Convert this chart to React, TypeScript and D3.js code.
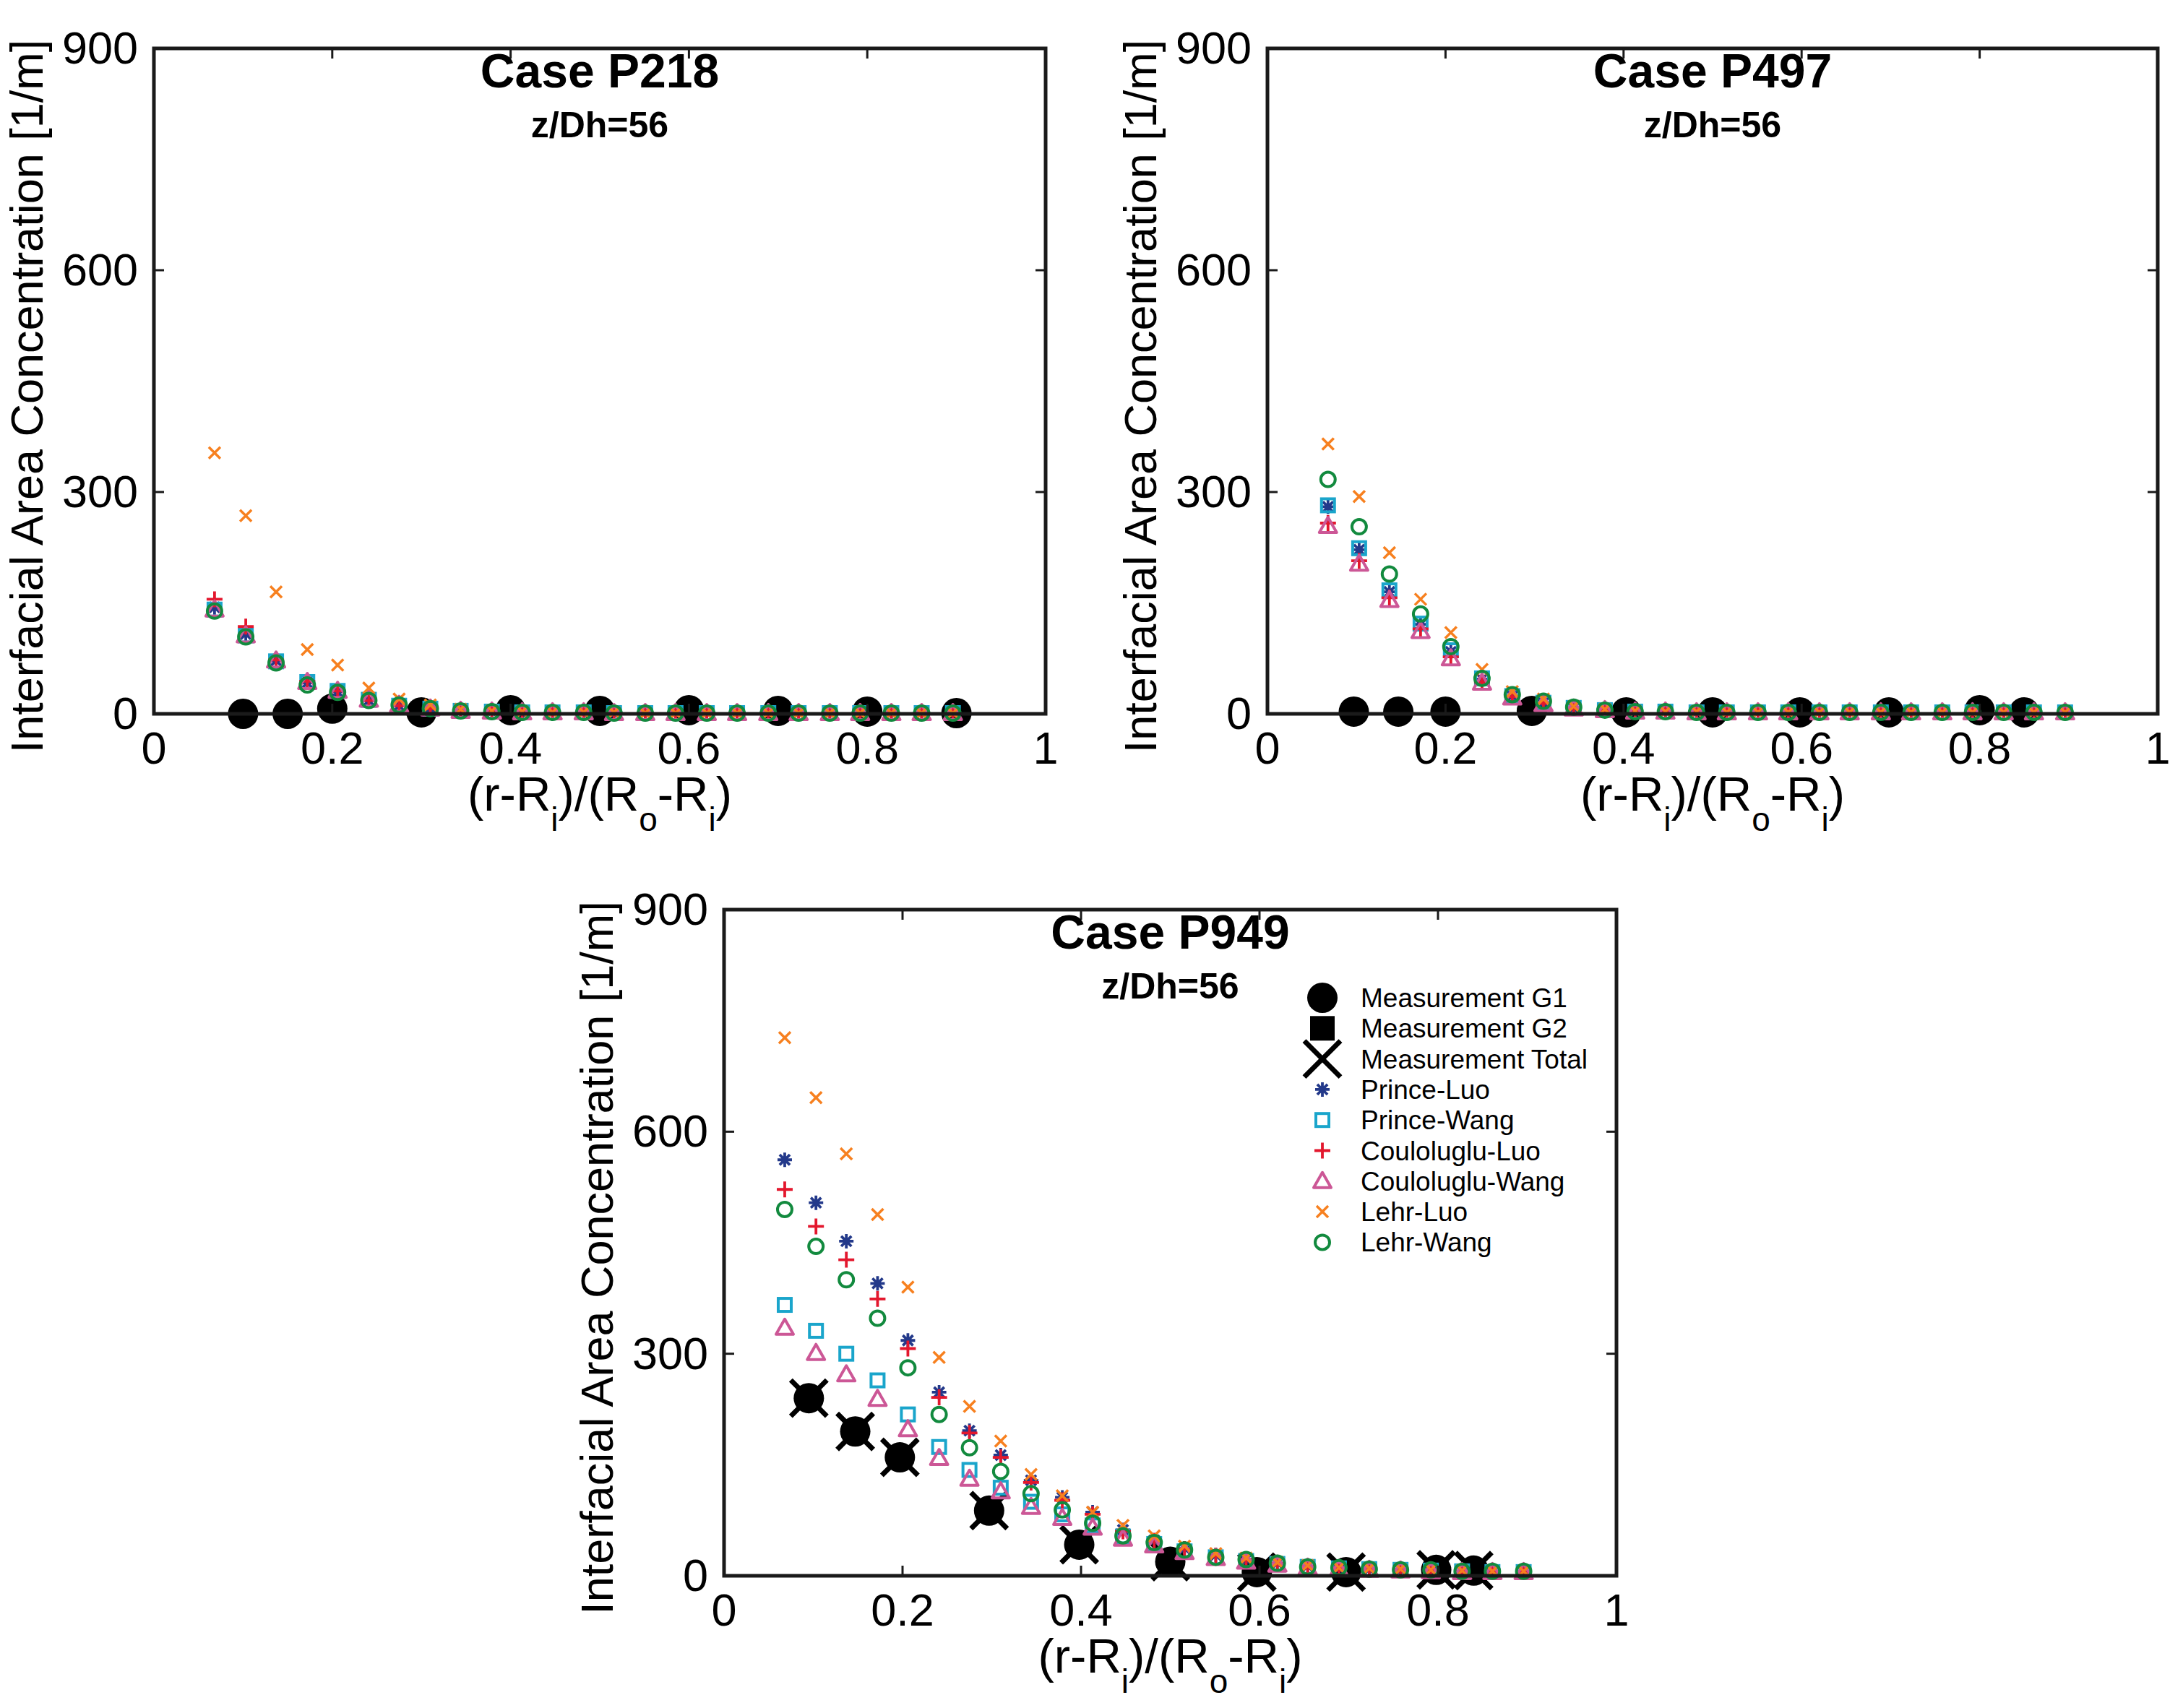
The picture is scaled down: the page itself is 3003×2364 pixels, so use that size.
import React from "react";
import * as d3 from "d3";

// ---------------- DATA ----------------
const xModel = [0.068, 0.103, 0.137, 0.172, 0.206, 0.241, 0.275, 0.310, 0.344, 0.379, 0.413, 0.447, 0.482, 0.516, 0.551, 0.585, 0.620, 0.654, 0.689, 0.723, 0.758, 0.792, 0.827, 0.861, 0.896];

const xTickValues = [0, 0.2, 0.4, 0.6, 0.8, 1];
const xTickLabels = ["0", "0.2", "0.4", "0.6", "0.8", "1"];
const yTickValues = [0, 300, 600, 900];
const yTickLabels = ["0", "300", "600", "900"];

const seriesNames = ["Measurement G1", "Measurement G2", "Measurement Total", "Prince-Luo", "Prince-Wang", "Coulouglu-Luo", "Coulouglu-Wang", "Lehr-Luo", "Lehr-Wang"];
const legendLabels = ["Measurement G1", "Measurement G2", "Measurement Total", "Prince-Luo", "Prince-Wang", "Couloluglu-Luo", "Couloluglu-Wang", "Lehr-Luo", "Lehr-Wang"];

// Case P218
const p218MeasX = [0.1, 0.15, 0.2, 0.3, 0.4, 0.5, 0.6, 0.7, 0.8, 0.9];
const p218G1 = [0, 0, 7, 2, 5, 4, 5, 4, 3, 1];
const p218PrinceLuo = [144, 108, 72, 42, 30, 18, 11, 7, 4, 3, 2, 2, 2, 1, 1, 1, 1, 1, 1, 1, 1, 1, 1, 1, 1];
const p218PrinceWang = [141, 106, 71, 43, 31, 19, 11, 7, 4, 3, 2, 2, 2, 1, 1, 1, 1, 1, 1, 1, 1, 1, 1, 1, 1];
const p218CoulLuo = [155, 118, 73, 44, 31, 18, 11, 7, 4, 3, 2, 2, 2, 1, 1, 1, 1, 1, 1, 1, 1, 1, 1, 1, 1];
const p218CoulWang = [141, 106, 72, 43, 31, 19, 12, 7, 4, 3, 2, 2, 2, 1, 1, 1, 1, 1, 1, 1, 1, 1, 1, 1, 1];
const p218LehrLuo = [353, 268, 165, 87, 66, 35, 20, 12, 6, 4, 3, 2, 2, 2, 1, 1, 1, 1, 1, 1, 1, 1, 1, 1, 1];
const p218LehrWang = [139, 104, 69, 39, 29, 18, 12, 7, 4, 3, 2, 2, 2, 1, 1, 1, 1, 1, 1, 1, 1, 1, 1, 1, 1];

// Case P497
const p497MeasX = [0.097, 0.147, 0.2, 0.297, 0.403, 0.5, 0.598, 0.698, 0.8, 0.85];
const p497G1 = [3, 3, 3, 4, 2, 2, 2, 2, 5, 2];
const p497PrinceLuo = [280, 222, 165, 121, 84, 47, 24, 15, 8, 5, 3, 3, 2, 2, 2, 2, 2, 2, 2, 2, 2, 2, 2, 2, 2];
const p497PrinceWang = [282, 224, 167, 122, 86, 48, 24, 15, 8, 5, 3, 3, 2, 2, 2, 2, 2, 2, 2, 2, 2, 2, 2, 2, 2];
const p497CoulLuo = [258, 207, 157, 115, 77, 43, 23, 14, 8, 5, 3, 3, 2, 2, 2, 2, 2, 2, 2, 2, 2, 2, 2, 2, 2];
const p497CoulWang = [254, 203, 154, 112, 75, 42, 22, 13, 7, 5, 3, 3, 2, 2, 2, 2, 2, 2, 2, 2, 2, 2, 2, 2, 2];
const p497LehrLuo = [365, 294, 218, 155, 110, 60, 30, 20, 10, 6, 4, 3, 3, 2, 2, 2, 2, 2, 2, 2, 2, 2, 2, 2, 2];
const p497LehrWang = [317, 253, 189, 135, 91, 48, 26, 17, 9, 5, 3, 3, 2, 2, 2, 2, 2, 2, 2, 2, 2, 2, 2, 2, 2];

// Case P949
const p949MeasX = [0.095, 0.147, 0.197, 0.297, 0.398, 0.5, 0.597, 0.697, 0.798, 0.84];
const p949G1 = [240, 195, 160, 88, 42, 19, 5, 5, 8, 7];
const p949G2: number[] = [];
const p949Total = [240, 195, 160, 88, 42, 19, 5, 5, 8, 7];
const p949PrinceLuo = [562, 504, 452, 395, 318, 248, 196, 163, 129, 106, 86, 62, 48, 37, 28, 22, 17, 13, 10, 9, 8, 7, 6, 5, 5];
const p949PrinceWang = [366, 331, 300, 264, 218, 174, 143, 119, 100, 83, 68, 53, 43, 33, 25, 20, 16, 12, 10, 9, 8, 7, 6, 5, 5];
const p949CoulLuo = [522, 472, 427, 374, 307, 241, 193, 160, 126, 102, 83, 60, 47, 36, 27, 22, 17, 13, 10, 9, 8, 7, 6, 5, 5];
const p949CoulWang = [335, 301, 272, 239, 198, 159, 131, 114, 93, 78, 65, 50, 41, 32, 24, 19, 15, 11, 9, 8, 7, 6, 5, 5, 5];
const p949LehrLuo = [727, 646, 570, 488, 390, 295, 229, 182, 137, 108, 86, 68, 54, 40, 30, 24, 18, 14, 11, 10, 9, 8, 7, 6, 6];
const p949LehrWang = [495, 445, 400, 348, 281, 218, 173, 141, 111, 89, 71, 54, 45, 35, 25, 22, 17, 12, 11, 9, 8, 8, 6, 6, 6];

// ---------------- STYLE ----------------
const FONT = "'Liberation Sans', Arial, Helvetica, sans-serif";
const AXIS = "#1a1a1a";
const colors: Record<string, string> = {
  "Measurement G1": "#000",
  "Measurement G2": "#000",
  "Measurement Total": "#000",
  "Prince-Luo": "#23398a",
  "Prince-Wang": "#1aa5cb",
  "Coulouglu-Luo": "#e3172d",
  "Coulouglu-Wang": "#cc5796",
  "Lehr-Luo": "#f7801f",
  "Lehr-Wang": "#128a3e",
};
const shapes: Record<string, string> = {
  "Measurement G1": "bigcircle",
  "Measurement G2": "bigsquare",
  "Measurement Total": "bigx",
  "Prince-Luo": "asterisk",
  "Prince-Wang": "square",
  "Coulouglu-Luo": "plus",
  "Coulouglu-Wang": "triangle",
  "Lehr-Luo": "x",
  "Lehr-Wang": "circle",
};

type Series = { name: string; xs: number[]; ys: number[] };
type PanelDef = {
  title: string;
  x0: number; x1: number; yTop: number; yBottom: number;
  series: Series[];
  legend?: { x: number; y: number; dy: number };
};

function Marker({ shape, x, y, color }: { shape: string; x: number; y: number; color: string }) {
  switch (shape) {
    case "bigcircle":
      return <circle cx={x} cy={y} r={21} fill={color} />;
    case "bigsquare":
      return <rect x={x - 17} y={y - 17} width={34} height={34} fill={color} />;
    case "bigx": {
      const r = 25;
      return <path d={`M${x - r},${y - r}L${x + r},${y + r}M${x - r},${y + r}L${x + r},${y - r}`} stroke={color} strokeWidth={7} fill="none" />;
    }
    case "asterisk": {
      const r = 10, d = r * 0.7071;
      return <path d={`M${x - r},${y}H${x + r}M${x},${y - r}V${y + r}M${x - d},${y - d}L${x + d},${y + d}M${x - d},${y + d}L${x + d},${y - d}`} stroke={color} strokeWidth={3.8} fill="none" />;
    }
    case "square":
      return <rect x={x - 9} y={y - 9} width={18} height={18} stroke={color} strokeWidth={4} fill="none" />;
    case "plus": {
      const r = 11;
      return <path d={`M${x - r},${y}H${x + r}M${x},${y - r}V${y + r}`} stroke={color} strokeWidth={3.8} fill="none" />;
    }
    case "triangle":
      return <path d={`M${x},${y - 12}L${x + 12},${y + 9}L${x - 12},${y + 9}Z`} stroke={color} strokeWidth={4} fill="none" strokeLinejoin="round" />;
    case "x": {
      const r = 8;
      return <path d={`M${x - r},${y - r}L${x + r},${y + r}M${x - r},${y + r}L${x + r},${y - r}`} stroke={color} strokeWidth={3.5} fill="none" />;
    }
    case "circle":
      return <circle cx={x} cy={y} r={10} stroke={color} strokeWidth={4} fill="none" />;
  }
  return null;
}

function Panel({ def }: { def: PanelDef }) {
  const xs = d3.scaleLinear().domain([0, 1]).range([def.x0, def.x1]);
  const ys = d3.scaleLinear().domain([0, 900]).range([def.yBottom, def.yTop]);
  const cx = (def.x0 + def.x1) / 2;
  const tick = 14;
  const sub = 28;
  return (
    <g>
      {/* data */}
      {def.series.map((s) => (
        <g key={s.name}>
          {s.xs.map((xv, i) => (
            <Marker key={i} shape={shapes[s.name]} x={xs(xv)} y={ys(s.ys[i])} color={colors[s.name]} />
          ))}
        </g>
      ))}
      {/* box */}
      <rect x={def.x0} y={def.yTop} width={def.x1 - def.x0} height={def.yBottom - def.yTop} fill="none" stroke={AXIS} strokeWidth={5} />
      {/* ticks */}
      {xTickValues.map((t, i) => (
        <g key={"xt" + i}>
          <line x1={xs(t)} x2={xs(t)} y1={def.yBottom} y2={def.yBottom - tick} stroke={AXIS} strokeWidth={3} />
          <line x1={xs(t)} x2={xs(t)} y1={def.yTop} y2={def.yTop + tick} stroke={AXIS} strokeWidth={3} />
          <text x={xs(t)} y={def.yBottom + 69} textAnchor="middle" fontSize={63} fontFamily={FONT} fill="#000">{xTickLabels[i]}</text>
        </g>
      ))}
      {yTickValues.map((t, i) => (
        <g key={"yt" + i}>
          <line x1={def.x0} x2={def.x0 + tick} y1={ys(t)} y2={ys(t)} stroke={AXIS} strokeWidth={3} />
          <line x1={def.x1} x2={def.x1 - tick} y1={ys(t)} y2={ys(t)} stroke={AXIS} strokeWidth={3} />
          <text x={def.x0 - 22} y={ys(t) + 21} textAnchor="end" fontSize={63} fontFamily={FONT} fill="#000">{yTickLabels[i]}</text>
        </g>
      ))}
      {/* titles */}
      <text x={cx} y={def.yTop + 54} textAnchor="middle" fontSize={66} fontWeight="bold" fontFamily={FONT}>{def.title}</text>
      <text x={cx} y={def.yTop + 123} textAnchor="middle" fontSize={50} fontWeight="bold" fontFamily={FONT}>z/Dh=56</text>
      {/* x label */}
      <text x={cx} y={def.yBottom + 134} textAnchor="middle" fontSize={67} fontFamily={FONT}>
        <tspan>(r-R</tspan>
        <tspan fontSize={46} dy={sub}>i</tspan>
        <tspan dy={-sub}>)/(R</tspan>
        <tspan fontSize={46} dy={sub}>o</tspan>
        <tspan dy={-sub}>-R</tspan>
        <tspan fontSize={46} dy={sub}>i</tspan>
        <tspan dy={-sub}>)</tspan>
      </text>
      {/* y label */}
      <text transform={`translate(${def.x0 - 154},${(def.yTop + def.yBottom) / 2 + 21}) rotate(-90)`} textAnchor="middle" fontSize={63} fontFamily={FONT}>
        Interfacial Area Concentration [1/m]
      </text>
      {/* legend */}
      {def.legend && (
        <g>
          {seriesNames.map((n, i) => (
            <g key={"lg" + i}>
              <Marker shape={shapes[n]} x={def.legend!.x} y={def.legend!.y + i * def.legend!.dy} color={colors[n]} />
              <text x={def.legend!.x + 53} y={def.legend!.y + i * def.legend!.dy + 13} fontSize={37} fontFamily={FONT}>{legendLabels[i]}</text>
            </g>
          ))}
        </g>
      )}
    </g>
  );
}

function modelSeries(pl: number[], pw: number[], cl: number[], cw: number[], ll: number[], lw: number[]): Series[] {
  return [
    { name: "Prince-Luo", xs: xModel, ys: pl },
    { name: "Prince-Wang", xs: xModel, ys: pw },
    { name: "Coulouglu-Luo", xs: xModel, ys: cl },
    { name: "Coulouglu-Wang", xs: xModel, ys: cw },
    { name: "Lehr-Luo", xs: xModel, ys: ll },
    { name: "Lehr-Wang", xs: xModel, ys: lw },
  ];
}

const panels: PanelDef[] = [
  {
    title: "Case P218", x0: 213, x1: 1447, yTop: 67, yBottom: 988,
    series: [
      { name: "Measurement G1", xs: p218MeasX, ys: p218G1 },
      ...modelSeries(p218PrinceLuo, p218PrinceWang, p218CoulLuo, p218CoulWang, p218LehrLuo, p218LehrWang),
    ],
  },
  {
    title: "Case P497", x0: 1754, x1: 2986, yTop: 67, yBottom: 988,
    series: [
      { name: "Measurement G1", xs: p497MeasX, ys: p497G1 },
      ...modelSeries(p497PrinceLuo, p497PrinceWang, p497CoulLuo, p497CoulWang, p497LehrLuo, p497LehrWang),
    ],
  },
  {
    title: "Case P949", x0: 1002, x1: 2237, yTop: 1259, yBottom: 2181,
    series: [
      { name: "Measurement G1", xs: p949MeasX, ys: p949G1 },
      { name: "Measurement G2", xs: p949MeasX.slice(0, p949G2.length), ys: p949G2 },
      { name: "Measurement Total", xs: p949MeasX, ys: p949Total },
      ...modelSeries(p949PrinceLuo, p949PrinceWang, p949CoulLuo, p949CoulWang, p949LehrLuo, p949LehrWang),
    ],
    legend: { x: 1830, y: 1381, dy: 42.3 },
  },
];

export default function App() {
  return (
    <svg width={3003} height={2364} viewBox="0 0 3003 2364" style={{ position: "absolute", left: 0, top: 0, background: "#fff" }}>
      <rect x={0} y={0} width={3003} height={2364} fill="#fff" />
      {panels.map((p) => (
        <Panel key={p.title} def={p} />
      ))}
    </svg>
  );
}
